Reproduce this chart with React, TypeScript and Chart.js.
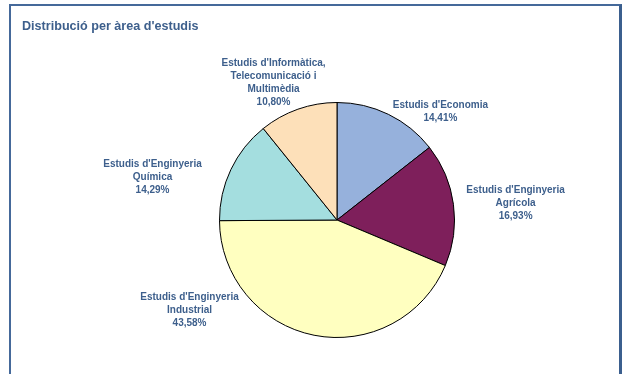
import React, { useEffect, useRef } from "react";
import { Chart, registerables } from "chart.js";

Chart.register(...registerables);

const title = "Distribució per àrea d'estudis";
const categories: string[][] = [
  ["Estudis d'Economia"],
  ["Estudis d'Enginyeria", "Agrícola"],
  ["Estudis d'Enginyeria", "Industrial"],
  ["Estudis d'Enginyeria", "Química"],
  ["Estudis d'Informàtica,", "Telecomunicació i", "Multimèdia"],
];
const values = [14.41, 16.93, 43.58, 14.29, 10.8];
const percentLabels = ["14,41%", "16,93%", "43,58%", "14,29%", "10,80%"];
const colors = ["#96b1dc", "#7e1f5b", "#ffffc0", "#a4dedf", "#fde0b9"];

// label anchor offsets relative to pie centre, in units of the radius
const labelOffsets = [
  [0.88, -0.925],
  [1.52, -0.145],
  [-1.255, 0.765],
  [-1.57, -0.36],
  [-0.54, -1.165],
];

const TEXT_COLOR = "#3d5f8c";
const FONT = "bold 10px 'Liberation Sans', Arial, sans-serif";

const labelPlugin = {
  id: "outerLabels",
  afterDraw(chart: any) {
    const meta = chart.getDatasetMeta(0);
    const ctx = chart.ctx;
    ctx.save();
    ctx.font = FONT;
    ctx.fillStyle = TEXT_COLOR;
    ctx.textAlign = "center";
    ctx.textBaseline = "middle";
    meta.data.forEach((arc: any, i: number) => {
      const r = arc.outerRadius;
      const cx = arc.x + labelOffsets[i][0] * r;
      const cy = arc.y + labelOffsets[i][1] * r;
      const lines = [...categories[i], percentLabels[i]];
      const lh = 13;
      const startY = cy - ((lines.length - 1) * lh) / 2;
      lines.forEach((ln, k) => ctx.fillText(ln, cx, startY + k * lh));
    });
    ctx.restore();
  },
};

export default function App() {
  const ref = useRef<HTMLCanvasElement>(null);
  useEffect(() => {
    if (!ref.current) return;
    const chart = new Chart(ref.current, {
      type: "pie",
      data: {
        labels: categories.map((c) => c.join(" ")),
        datasets: [
          {
            data: values,
            backgroundColor: colors,
            borderColor: "#000000",
            borderWidth: 1,
          },
        ],
      },
      options: {
        responsive: false,
        animation: false,
        layout: { padding: { top: 102, bottom: 36, left: 219, right: 168 } },
        plugins: {
          legend: { display: false },
          tooltip: { enabled: false },
          title: { display: false },
        },
      },
      plugins: [labelPlugin],
    });
    return () => chart.destroy();
  }, []);

  return (
    <div
      style={{
        position: "fixed",
        left: 0,
        top: 0,
        width: 623,
        height: 374,
        background: "#ffffff",
        overflow: "hidden",
      }}
    >
      <div
        style={{
          position: "absolute",
          left: 9,
          top: 4,
          width: 608,
          height: 400,
          borderLeft: "2px solid #45699a",
          borderTop: "2px solid #45699a",
          borderRight: "3px solid #3b5f8e",
        }}
      />
      <canvas
        ref={ref}
        width={623}
        height={374}
        style={{ position: "absolute", left: 0, top: 0, width: 623, height: 374 }}
      />
      <div
        style={{
          position: "absolute",
          left: 22,
          top: 19,
          font: "bold 12.6px 'Liberation Sans', Arial, sans-serif",
          color: TEXT_COLOR,
          whiteSpace: "nowrap",
        }}
      >
        {title}
      </div>
    </div>
  );
}
